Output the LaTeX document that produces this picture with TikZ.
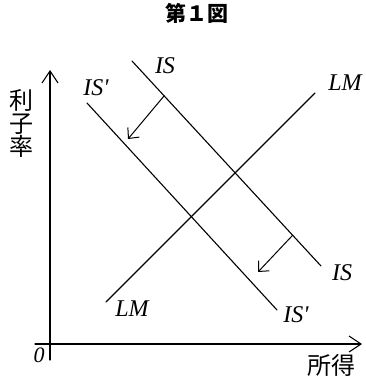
\documentclass[tikz,border=0pt]{standalone}
\usepackage{fontspec}
\setmainfont{Liberation Serif}
\newfontfamily\jpfont{Noto Sans CJK JP}
\usepackage{xcolor}
\usetikzlibrary{arrows.meta,calc}

\begin{document}
\begin{tikzpicture}[
   x=1pt,
   y=-1pt,
   line cap=round,
   line join=round,
   curve/.style={line width=1.1pt},
   axis/.style={line width=1.1pt,-{Straight Barb[length=12pt,width=16pt,line width=1.1pt]}},
   shiftarrow/.style={line width=1pt,-{Straight Barb[length=8pt,width=15pt,line width=1pt]}},
   curvelabel/.style={font=\fontsize{24}{26}\selectfont\itshape,inner sep=0pt},
   jplabel/.style={font=\fontsize{24}{23}\selectfont\jpfont,inner sep=0pt,align=center}
 ]
   \useasboundingbox (0,0) rectangle (366,380);

   % Title.
   \node[font=\fontsize{21}{24}\selectfont\jpfont\bfseries,inner sep=0pt] (title) at (197,13) {第１図};

   % Axes.
   \coordinate (yb) at (50,360);
   \coordinate (yt) at (50,70);
   \coordinate (xl) at (35,344);
   \coordinate (xr) at (362,344);
   \draw[axis] (yb) -- (yt);
   \draw[axis] (xl) -- (xr);
   \node[curvelabel,font=\fontsize{22}{24}\selectfont\itshape] (zero) at (39,355) {0};
   \node[jplabel] (rate) at (21.5,123) {利\\子\\率};
   \node[jplabel] (income) at (331,365) {所得};

   % IS, IS' and LM curves.
   \coordinate (is1) at (132,61);
   \coordinate (is2) at (321,266);
   \coordinate (isp1) at (87,103);
   \coordinate (isp2) at (277,310);
   \coordinate (lm1) at (106,302);
   \coordinate (lm2) at (315,93);
   \draw[curve] (is1) -- (is2);
   \draw[curve] (isp1) -- (isp2);
   \draw[curve] (lm1) -- (lm2);

   \node[curvelabel] (istop) at (165,66) {IS};
   \node[curvelabel] (isright) at (342,273) {IS};
   \node[curvelabel] (isptop) at (96,88) {IS\textquotesingle};
   \node[curvelabel] (ispbot) at (296,315) {IS\textquotesingle};
   \node[curvelabel] (lmtop) at (345,83) {LM};
   \node[curvelabel] (lmbot) at (132,309) {LM};

   % Shift of IS to IS'.
   \coordinate (a1) at ($(is1)!0.17!(is2)$);
   \coordinate (a1e) at (128,139);
   \coordinate (a2) at ($(is1)!0.85!(is2)$);
   \coordinate (a2e) at (258,272);
   \draw[shiftarrow] (a1) -- (a1e);
   \draw[shiftarrow] (a2) -- (a2e);
 \end{tikzpicture}
\end{document}
